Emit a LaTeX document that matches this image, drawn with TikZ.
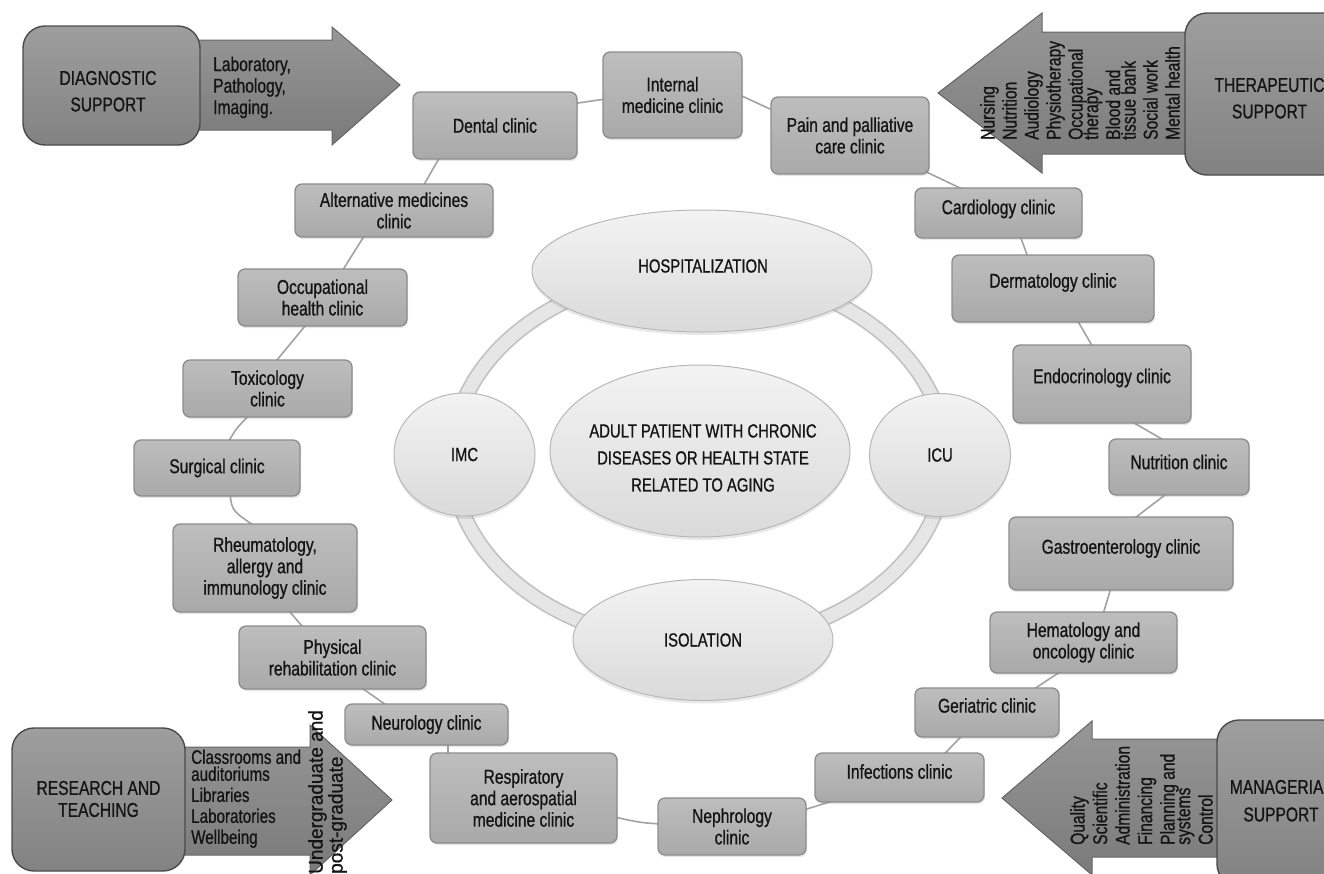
\documentclass[tikz,border=0pt]{standalone}
\usepackage{fontspec}
\setmainfont[FakeStretch=0.78, FakeBold=0.8]{Liberation Sans}
\newfontfamily\widesans[FakeStretch=0.95, FakeBold=0.8]{Liberation Sans}
\usetikzlibrary{shapes.geometric,shadows,calc,backgrounds}

\definecolor{clinicfill}{HTML}{B2B2B2}
\definecolor{clinicedge}{HTML}{8C8C8C}
\definecolor{supfilltop}{HTML}{9E9E9E}
\definecolor{supfillbot}{HTML}{828282}
\definecolor{supedge}{HTML}{4A4A4A}
\definecolor{arrowtop}{HTML}{979797}
\definecolor{arrowbot}{HTML}{7A7A7A}
\definecolor{arrowedge}{HTML}{656565}
\definecolor{ovaltop}{HTML}{F3F3F3}
\definecolor{ovalbot}{HTML}{DADADA}
\definecolor{ovaledge}{HTML}{B8B8B8}
\definecolor{ringedge}{HTML}{C2C2C2}
\definecolor{ringfill}{HTML}{E6E6E6}
\definecolor{linkgray}{HTML}{A2A2A2}
\definecolor{ink}{HTML}{141414}

% tight leading for the rotated lists in the arrows
\newcommand\arrowlistfont{\fontsize{20}{15.5}\selectfont\lineskiplimit=-50pt\relax}

\tikzset{
  txt/.style={font=\fontsize{20}{21.5}\selectfont, text=ink, inner sep=0pt},
  clinic/.style={rectangle, rounded corners=7pt, draw=clinicedge, line width=1.3pt,
    top color=clinicfill!85!white, bottom color=clinicfill!95!black, align=center, txt,
    drop shadow={shadow xshift=1pt, shadow yshift=-2pt, opacity=0.2}},
  supbox/.style={rectangle, rounded corners=22pt, draw=supedge, line width=1.4pt,
    top color=supfilltop, bottom color=supfillbot},
  suplabel/.style={txt, align=center, anchor=north},
  oval/.style={ellipse, draw=ovaledge, line width=1pt, top color=ovaltop, bottom color=ovalbot,
    inner sep=0pt, txt, font=\fontsize{19}{21}\selectfont,
    drop shadow={shadow xshift=0pt, shadow yshift=-3pt, opacity=0.18}},
  bigarrow/.style={draw=arrowedge, line width=1pt, top color=arrowtop, bottom color=arrowbot},
  link/.style={draw=linkgray, line width=1.6pt},
  rottext/.style={txt, rotate=90, align=left, anchor=south west},
}

\begin{document}
\begin{tikzpicture}[x=1pt,y=-1pt]
\useasboundingbox (0,0) rectangle (1324,873);
\clip (0,0) rectangle (1324,873);

% ring of care settings
\draw[ringedge, line width=16pt] (699,458) ellipse [x radius=247pt, y radius=186pt];
\draw[ringfill, line width=12.5pt] (699,458) ellipse [x radius=247pt, y radius=186pt];

\node[oval, minimum width=340pt, minimum height=122pt] (hosp) at (702,271) {};
\node[txt, font=\fontsize{19}{21}\selectfont] (hosptxt) at (703,266) {HOSPITALIZATION};
\node[oval, minimum width=260pt, minimum height=121pt] (iso) at (703,640) {ISOLATION};
\node[oval, minimum width=141pt, minimum height=123pt] (imc) at (464.5,454.5) {IMC};
\node[oval, minimum width=141pt, minimum height=123pt] (icu) at (940,455) {ICU};
\node[oval, minimum width=300pt, minimum height=172pt] (patient) at (700,451) {};
\node[txt, align=center, anchor=north, font=\fontsize{19}{27}\selectfont] (patienttxt) at (703,424)
  {ADULT PATIENT WITH CHRONIC\\DISEASES OR HEALTH STATE\\RELATED TO AGING};

% clinics
\node[clinic, minimum width=164pt, minimum height=67pt] (dental) at (495,125.5) {Dental clinic};
\node[clinic, minimum width=139pt, minimum height=86pt] (internal) at (672.5,95) {Internal\\medicine clinic};
\node[clinic, minimum width=158pt, minimum height=77pt] (pain) at (850,135.5) {Pain and palliative\\care clinic};
\node[clinic, minimum width=167pt, minimum height=50pt] (cardio) at (998.5,213) {\raisebox{4pt}[\height][\depth]{Cardiology clinic}};
\node[clinic, minimum width=202pt, minimum height=67pt] (derm) at (1053,288.5) {\raisebox{6pt}[\height][\depth]{Dermatology clinic}};
\node[clinic, minimum width=178pt, minimum height=78pt] (endo) at (1102,384) {\raisebox{6pt}[\height][\depth]{Endocrinology clinic}};
\node[clinic, minimum width=140pt, minimum height=56pt] (nutr) at (1179,467) {\raisebox{5pt}[\height][\depth]{Nutrition clinic}};
\node[clinic, minimum width=224pt, minimum height=73pt] (gastro) at (1121,553.5) {\raisebox{5pt}[\height][\depth]{Gastroenterology clinic}};
\node[clinic, minimum width=187pt, minimum height=61pt] (hema) at (1083.5,642.5) {Hematology and\\oncology clinic};
\node[clinic, minimum width=144pt, minimum height=49pt] (geri) at (987,712.5) {\raisebox{7pt}[\height][\depth]{Geriatric clinic}};
\node[clinic, minimum width=169pt, minimum height=49pt] (inf) at (899.5,777.5) {\raisebox{6pt}[\height][\depth]{Infections clinic}};
\node[clinic, minimum width=148pt, minimum height=57pt] (neph) at (732,826.5) {Nephrology\\clinic};
\node[clinic, minimum width=187pt, minimum height=90pt] (resp) at (523.5,798) {Respiratory\\and aerospatial\\medicine clinic};
\node[clinic, minimum width=163pt, minimum height=41pt] (neuro) at (426.5,724.5) {Neurology clinic};
\node[clinic, minimum width=187pt, minimum height=63pt] (phys) at (332.5,657.5) {Physical\\rehabilitation clinic};
\node[clinic, minimum width=184pt, minimum height=88pt] (rheum) at (265,568) {Rheumatology,\\allergy and\\immunology clinic};
\node[clinic, minimum width=166pt, minimum height=56pt] (surg) at (217,468) {Surgical clinic};
\node[clinic, minimum width=169pt, minimum height=57pt] (tox) at (267.5,388.5) {Toxicology\\clinic};
\node[clinic, minimum width=169pt, minimum height=57pt] (occ) at (322.5,297.5) {Occupational\\health clinic};
\node[clinic, minimum width=198pt, minimum height=53pt] (alt) at (394,210.5) {Alternative medicines\\clinic};

% chain of clinics
\begin{scope}[on background layer]
\draw[link] ($(dental.east)+(-3,-22)$) -- ($(internal.west)+(3,4)$);
\draw[link] ($(internal.east)+(-3,0)$) -- ($(pain.west)+(3,-25)$);
\draw[link] ($(pain.south east)+(-4,-3)$) -- ($(cardio.north)+(-33.5,3)$);
\draw[link] ($(cardio.south)+(21.5,-3)$) -- ($(derm.north)+(-25,3)$);
\draw[link] ($(derm.south)+(24,-3)$) -- ($(endo.north)+(-9,3)$);
\draw[link] ($(endo.south)+(28,-3)$) -- ($(nutr.north)+(-13,3)$);
\draw[link] ($(nutr.south)+(-11,-3)$) -- ($(gastro.north)+(12,3)$);
\draw[link] ($(gastro.south)+(-10,-3)$) -- ($(hema.north)+(19.5,3)$);
\draw[link] ($(hema.south)+(-21.5,-3)$) -- ($(geri.north)+(45,3)$);
\draw[link] ($(geri.south)+(-24,-3)$) -- ($(inf.north)+(43.5,3)$);
\draw[link] ($(inf.south)+(-62.5,-3)$) -- ($(neph.east)+(-3,-16.5)$);
\draw[link] ($(neph.west)+(3,-2.5)$) .. controls ($(neph.west)+(-18,-4)$) .. ($(resp.east)+(-3,19)$);
\draw[link] ($(resp.north)+(-75.5,3)$) -- ($(neuro.south)+(21.5,-3)$);
\draw[link] ($(neuro.north)+(-38.5,3)$) -- ($(phys.south)+(27.5,-3)$);
\draw[link] ($(phys.north)+(-28.5,3)$) -- ($(rheum.south)+(23,-3)$);
\draw[link] ($(rheum.north)+(-10,3)$) .. controls ($(surg.south)+(15,14)$) .. ($(surg.south)+(13,-3)$);
\draw[link] ($(surg.north)+(11,3)$) .. controls ($(surg.north)+(20,-12)$) .. ($(tox.south)+(-17.5,-3)$);
\draw[link] ($(tox.north)+(7.5,3)$) -- ($(occ.south)+(-15.5,-3)$);
\draw[link] ($(occ.north)+(19.5,3)$) -- ($(alt.south)+(-29,-3)$);
\draw[link] ($(alt.north)+(29,3)$) -- ($(dental.south)+(-55,-3)$);
\end{scope}

% support services: arrows
\path[bigarrow] (190,40) -- (332,40) -- (332,27) -- (400,85) -- (332,145) -- (332,130) -- (190,130) -- cycle;
\path[bigarrow] (1195,32) -- (1042,32) -- (1042,13) -- (938,93) -- (1042,173) -- (1042,154) -- (1195,154) -- cycle;
\path[bigarrow] (175,747) -- (310,747) -- (310,725) -- (392,800) -- (310,875) -- (310,855) -- (175,855) -- cycle;
\path[bigarrow] (1227,739) -- (1092,739) -- (1092,721) -- (1002,798) -- (1092,875) -- (1092,857) -- (1227,857) -- cycle;

% support services: boxes
\node[supbox, minimum width=177pt, minimum height=119pt] (diag) at (111.5,85.5) {};
\node[suplabel, font=\fontsize{20}{26.5}\selectfont] (diaglabel) at (108,70.7) {DIAGNOSTIC\\SUPPORT};
\node[supbox, minimum width=169pt, minimum height=162pt] (ther) at (1269.5,94) {};
\node[suplabel, font=\fontsize{20}{26.5}\selectfont] (therlabel) at (1269.5,77.7) {THERAPEUTIC\\SUPPORT};
\node[supbox, minimum width=173pt, minimum height=143pt] (research) at (98.5,799.5) {};
\node[suplabel, font=\fontsize{20}{22}\selectfont] (researchlabel) at (98.5,780.7) {RESEARCH AND\\TEACHING};
\node[supbox, minimum width=128pt, minimum height=166pt] (manag) at (1281,803) {};
\node[suplabel, font=\fontsize{20}{27.5}\selectfont] (managlabel) at (1281,779.7) {MANAGERIAL\\SUPPORT};

% support services: contents
\node[txt, align=left, anchor=north west] (diagtxt) at (213,56.4) {Laboratory,\\Pathology,\\Imaging.};
\node[rottext, font=\arrowlistfont] (thertxt) at (1180,140)
  {Nursing\\[6.5pt]Nutrition\\[6.5pt]Audiology\\[6.5pt]Physiotherapy\\[6.5pt]Occupational\\therapy\\[6.5pt]Blood and\\tissue bank\\[6.5pt]Social work\\[6.5pt]Mental health};
\node[txt, align=left, anchor=north west, font=\fontsize{19.5}{17}\selectfont] (researchtxt) at (191,749.5)
  {Classrooms and\\auditoriums\\[4pt]Libraries\\[4pt]Laboratories\\[4pt]Wellbeing};
\node[rottext, font=\widesans\fontsize{20}{20}\selectfont] (degrees) at (347,874) {Undergraduate and\\post-graduate};
\node[rottext, font=\arrowlistfont] (managtxt) at (1213,845)
  {Quality\\[7pt]Scientific\\[7pt]Administration\\[7pt]Financing\\[7pt]Planning and\\systems\\[7pt]Control};
\end{tikzpicture}
\end{document}
